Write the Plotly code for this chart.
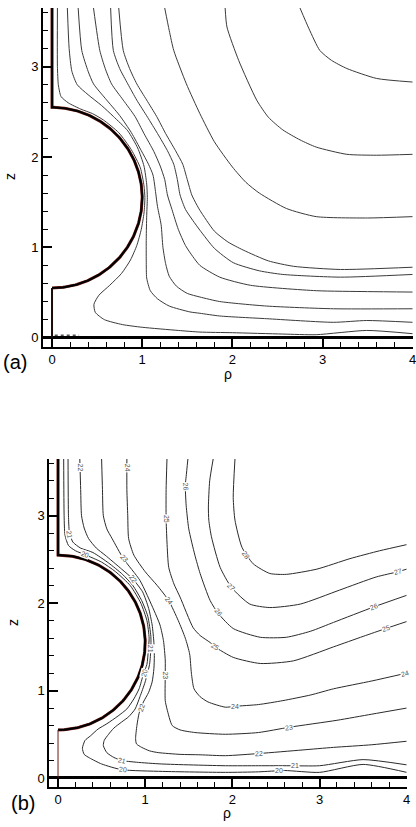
import numpy as np
import plotly.graph_objects as go

# ---------------- axes / geometry ----------------
RHO_RANGE = [-0.1, 4.0]
Z_RANGE = [-0.1, 3.65]
SPHERE_CENTER_Z = 1.55
SPHERE_RADIUS = 1.0
SPHERE_TOP_Z = 2.55
SPHERE_BOTTOM_Z = 0.55

# ---------------- panel (a): contour lines (rho, z) ----------------
a1_rho = [0.06,0.06,0.07,0.10,0.18,0.32,0.45,0.57,0.74,0.88,0.98,1.02,1.03,1.02,0.99,0.94,0.87,0.77,0.64,0.52,0.465,0.48,0.58,0.78,1.0,1.4,1.64,2.0,2.56,2.93,3.49,4.0]
a1_z   = [3.65,3.0,2.8,2.67,2.60,2.53,2.48,2.41,2.27,2.08,1.88,1.68,1.55,1.38,1.2,1.02,0.86,0.71,0.58,0.47,0.37,0.28,0.20,0.145,0.115,0.08,0.062,0.055,0.04,0.033,0.08,0.044]
a2_rho = [0.17,0.19,0.22,0.28,0.40,0.55,0.68,0.84,0.95,1.02,1.05,1.057,1.05,1.045,1.045,1.05,1.09,1.17,1.30,1.53,1.64,1.86,2.38,3.12,3.49,4.0]
a2_z   = [3.65,3.2,2.95,2.80,2.69,2.57,2.45,2.29,2.10,1.90,1.70,1.55,1.35,1.1,0.85,0.66,0.52,0.43,0.35,0.285,0.27,0.24,0.21,0.17,0.19,0.17]
a3_rho = [0.29,0.33,0.40,0.46,0.59,0.75,0.88,0.99,1.07,1.12,1.15,1.17,1.21,1.23,1.26,1.30,1.38,1.50,1.64,1.86,2.38,3.12,4.0]
a3_z   = [3.65,3.18,2.95,2.81,2.65,2.46,2.27,2.07,1.92,1.8,1.6,1.45,1.25,1.0,0.82,0.68,0.57,0.49,0.45,0.40,0.35,0.32,0.32]
a4_rho = [0.46,0.53,0.59,0.66,0.79,0.92,1.02,1.13,1.20,1.25,1.28,1.33,1.40,1.48,1.56,1.64,1.86,2.2,2.93,3.5,4.0]
a4_z   = [3.65,3.18,2.98,2.81,2.63,2.45,2.26,2.06,1.9,1.75,1.58,1.42,1.2,1.02,0.9,0.80,0.67,0.58,0.52,0.51,0.505]
a5_rho = [0.65,0.68,0.75,0.84,0.94,1.06,1.17,1.28,1.35,1.39,1.42,1.48,1.56,1.64,1.8,2.01,2.3,2.56,3.2,4.0]
a5_z   = [3.65,3.18,2.98,2.81,2.63,2.44,2.26,2.07,1.92,1.75,1.58,1.42,1.30,1.19,0.99,0.83,0.74,0.70,0.67,0.70]
a6_rho = [0.74,0.79,0.86,0.94,1.05,1.16,1.26,1.37,1.45,1.50,1.55,1.60,1.64,1.8,1.95,2.12,2.4,2.68,3.2,4.0]
a6_z   = [3.65,3.18,2.98,2.81,2.63,2.45,2.26,2.07,1.92,1.75,1.58,1.48,1.41,1.18,1.06,0.97,0.85,0.79,0.755,0.78]
a7_rho = [1.25,1.30,1.35,1.49,1.64,1.8,2.0,2.15,2.3,2.6,2.93,3.5,4.0]
a7_z   = [3.65,3.4,3.18,2.81,2.48,2.17,1.89,1.72,1.6,1.43,1.34,1.325,1.34]
a8_rho = [1.92,1.94,2.07,2.27,2.40,2.56,2.75,2.93,3.27,3.6,4.0]
a8_z   = [3.65,3.44,3.07,2.63,2.44,2.30,2.19,2.11,2.03,2.02,2.03]
a9_rho = [2.75,2.85,2.97,3.1,3.27,3.6,4.0]
a9_z   = [3.65,3.42,3.18,3.07,2.98,2.87,2.83]
a_dots_rho = [0.03, 0.30]
a_dots_z = [0.028, 0.028]

TOP_LINES = [(a1_rho, a1_z), (a2_rho, a2_z), (a3_rho, a3_z), (a4_rho, a4_z), (a5_rho, a5_z),
             (a6_rho, a6_z), (a7_rho, a7_z), (a8_rho, a8_z), (a9_rho, a9_z)]

# ---------------- panel (b): contour levels 20..28 ----------------
b20_rho = [0.065,0.07,0.08,0.12,0.20,0.31,0.50,0.66,0.83,0.95,1.02,1.045,1.035,1.02,0.98,0.93,0.87,0.79,0.69,0.56,0.46,0.37,0.31,0.28,0.30,0.36,0.5,0.73,1.2,1.92,2.3,2.6,3.0,3.5,4.0]
b20_z   = [3.65,3.0,2.78,2.66,2.60,2.555,2.47,2.36,2.2,2.0,1.8,1.6,1.45,1.3,1.19,1.02,0.905,0.79,0.71,0.62,0.56,0.48,0.43,0.34,0.27,0.23,0.16,0.095,0.075,0.064,0.07,0.085,0.064,0.155,0.064]
b21_rho = [0.115,0.12,0.13,0.17,0.26,0.40,0.58,0.74,0.86,0.96,1.03,1.065,1.065,1.05,1.0,0.94,0.885,0.81,0.73,0.64,0.58,0.53,0.52,0.56,0.64,0.73,0.9,1.19,1.92,2.3,2.65,3.0,3.5,4.0]
b21_z   = [3.65,3.0,2.82,2.70,2.63,2.58,2.46,2.33,2.2,2.03,1.85,1.62,1.48,1.3,1.10,0.93,0.79,0.70,0.64,0.57,0.50,0.43,0.37,0.29,0.235,0.20,0.18,0.16,0.14,0.14,0.14,0.14,0.21,0.15]
b22_rho = [0.25,0.26,0.27,0.30,0.35,0.44,0.54,0.73,0.855,0.97,1.04,1.08,1.10,1.105,1.10,1.08,1.04,0.98,0.93,0.905,0.89,0.90,0.96,1.05,1.15,1.4,1.63,1.92,2.31,2.8,3.16,3.6,4.0]
b22_z   = [3.65,3.3,3.0,2.86,2.74,2.63,2.55,2.39,2.28,2.13,1.94,1.75,1.55,1.4,1.25,1.10,0.98,0.87,0.74,0.60,0.45,0.39,0.35,0.31,0.29,0.27,0.265,0.255,0.28,0.32,0.35,0.38,0.42]
b23_rho = [0.50,0.51,0.52,0.56,0.62,0.75,0.94,1.10,1.17,1.21,1.23,1.23,1.23,1.25,1.31,1.40,1.57,1.92,2.3,2.65,3.2,3.6,4.0]
b23_z   = [3.65,3.3,3.0,2.85,2.74,2.51,2.26,1.92,1.75,1.57,1.35,1.17,0.885,0.79,0.60,0.55,0.52,0.50,0.52,0.58,0.66,0.73,0.80]
b24_rho = [0.79,0.79,0.80,0.81,0.87,1.0,1.14,1.27,1.38,1.46,1.51,1.53,1.56,1.63,1.72,1.92,2.03,2.3,2.58,2.9,3.16,3.6,4.0]
b24_z   = [3.65,3.3,3.0,2.74,2.55,2.36,2.2,2.03,1.80,1.6,1.42,1.2,1.02,0.93,0.87,0.81,0.82,0.84,0.885,0.95,1.02,1.11,1.20]
b25_rho = [1.25,1.24,1.24,1.25,1.27,1.33,1.40,1.55,1.63,1.745,1.80,2.01,2.32,2.70,3.16,3.5,3.76,4.0]
b25_z   = [3.65,3.3,2.97,2.7,2.41,2.22,2.07,1.72,1.63,1.55,1.50,1.38,1.31,1.34,1.50,1.62,1.71,1.79]
b26_rho = [1.49,1.47,1.46,1.47,1.50,1.57,1.63,1.745,1.84,2.01,2.32,2.62,2.9,3.16,3.63,4.0]
b26_z   = [3.65,3.45,3.35,3.12,2.85,2.55,2.34,2.03,1.88,1.71,1.61,1.61,1.68,1.78,1.96,2.09]
b27_rho = [1.78,1.74,1.725,1.73,1.76,1.86,1.99,2.20,2.43,2.78,3.23,3.65,3.90,4.0]
b27_z   = [3.65,3.40,3.10,2.95,2.76,2.41,2.18,1.99,1.95,1.99,2.15,2.30,2.36,2.39]
b28_rho = [2.03,2.01,2.03,2.11,2.24,2.43,2.62,2.97,3.35,3.69,4.0]
b28_z   = [3.65,3.21,2.95,2.64,2.45,2.34,2.33,2.39,2.51,2.60,2.67]

BOTTOM_LINES = [(b20_rho, b20_z), (b21_rho, b21_z), (b22_rho, b22_z), (b23_rho, b23_z), (b24_rho, b24_z),
                (b25_rho, b25_z), (b26_rho, b26_z), (b27_rho, b27_z), (b28_rho, b28_z)]

label_text  = ["22","24","26","25","21","20","23","22","24","26","28","27","25","21","20","23","22",
               "27","26","25","24","24","23","22","21","20","21","20"]
label_rho   = [0.255,0.79,1.46,1.245,0.135,0.31,0.76,0.855,1.27,1.84,2.16,1.99,1.80,1.065,0.985,1.23,0.955,
               3.90,3.63,3.76,3.98,2.03,2.65,2.31,2.72,2.54,0.73,0.75]
label_z     = [3.55,3.55,3.33,2.97,2.79,2.555,2.51,2.28,2.03,1.89,2.55,2.18,1.50,1.48,1.20,1.17,0.81,
               2.36,1.96,1.71,1.19,0.82,0.58,0.28,0.14,0.085,0.20,0.10]
label_angle = [90,90,85,90,80,20,50,55,50,50,55,45,30,90,-75,90,-70,
               -15,-20,-18,-15,0,-6,-2,0,0,12,5]

# ---------------- figure ----------------
W, H = 416, 827
FONT = "Liberation Sans, Arial, sans-serif"
fig = go.Figure()

LINE_A = dict(color="#3a3a3a", width=1)
LINE_B = dict(color="#2a2a2a", width=1)

for rho, z in TOP_LINES:
    fig.add_trace(go.Scatter(x=rho, y=z, mode="lines", line=dict(**LINE_A, shape="spline", smoothing=0.6),
                             xaxis="x", yaxis="y", hoverinfo="skip"))
fig.add_trace(go.Scatter(x=a_dots_rho, y=a_dots_z, mode="lines", line=dict(color="#555", width=1.5, dash="dot"),
                         xaxis="x", yaxis="y", hoverinfo="skip"))
for rho, z in BOTTOM_LINES:
    fig.add_trace(go.Scatter(x=rho, y=z, mode="lines", line=dict(**LINE_B, shape="spline", smoothing=0.6),
                             xaxis="x2", yaxis="y2", hoverinfo="skip"))

# body outline (axis segments + spherical arc)
theta = np.linspace(0, np.pi, 181)
body_rho = np.concatenate([[0.0, 0.0], SPHERE_RADIUS * np.sin(theta), [0.0]])
body_z = np.concatenate([[Z_RANGE[1], SPHERE_TOP_Z], SPHERE_CENTER_Z + SPHERE_RADIUS * np.cos(theta), [SPHERE_BOTTOM_Z]])
stem_rho = [0.0, 0.0]
stem_z = [SPHERE_BOTTOM_Z, 0.0]

for xa, ya, stem_w, stem_c in (("x", "y", 2.0, "#1a0a08"), ("x2", "y2", 1.0, "#6a1a14")):
    fig.add_trace(go.Scatter(x=body_rho, y=body_z, mode="lines", line=dict(color="#8a2a20", width=3.0),
                             xaxis=xa, yaxis=ya, hoverinfo="skip"))
    fig.add_trace(go.Scatter(x=body_rho, y=body_z, mode="lines", line=dict(color="black", width=2.2),
                             xaxis=xa, yaxis=ya, hoverinfo="skip"))
    fig.add_trace(go.Scatter(x=stem_rho, y=stem_z, mode="lines", line=dict(color=stem_c, width=stem_w),
                             xaxis=xa, yaxis=ya, hoverinfo="skip"))

for t, r, zz, ang in zip(label_text, label_rho, label_z, label_angle):
    fig.add_annotation(x=r, y=zz, xref="x2", yref="y2", text=t, showarrow=False, textangle=ang,
                       font=dict(family=FONT, size=7, color="#505050"), bgcolor="white", borderpad=0)

def px_x(p):
    return p / W

def px_y(p):
    return 1 - p / H

axis_common = dict(
    showgrid=False, zeroline=False, showline=True, linecolor="black", linewidth=2,
    ticks="inside", ticklen=9, tickwidth=2, tickcolor="black",
    tickfont=dict(family=FONT, size=13, color="black"), ticklabeloverflow="allow",
    tick0=0, dtick=1, automargin=False, fixedrange=True,
    minor=dict(ticks="inside", ticklen=5, tickwidth=1, tickcolor="black", dtick=0.2, tick0=0, showgrid=False),
)

fig.update_layout(
    width=W, height=H, margin=dict(l=0, r=0, t=0, b=0),
    paper_bgcolor="white", plot_bgcolor="white", showlegend=False, template=None,
    xaxis=dict(domain=[px_x(43), px_x(412.7)], range=RHO_RANGE, anchor="y", **axis_common),
    yaxis=dict(domain=[px_y(346.7), px_y(8)], range=Z_RANGE, anchor="x",
               **{**axis_common, "zeroline": True, "zerolinecolor": "black", "zerolinewidth": 3}),
    xaxis2=dict(domain=[px_x(49.3), px_x(406.7)], range=RHO_RANGE, anchor="y2", **axis_common),
    yaxis2=dict(domain=[px_y(786.7), px_y(459)], range=Z_RANGE, anchor="x2",
                **{**axis_common, "zeroline": True, "zerolinecolor": "black", "zerolinewidth": 3}),
)

# axis titles and panel tags
for txt, x, y, size, ang in (("z", 10, 177, 14, -90), ("ρ", 228, 374, 14, 0), ("(a)", 15, 362, 20, 0),
                             ("z", 13, 623, 14, -90), ("ρ", 226.7, 813, 14, 0), ("(b)", 22.5, 803, 20, 0)):
    fig.add_annotation(x=px_x(x), y=px_y(y), xref="paper", yref="paper", text=txt, showarrow=False,
                       textangle=ang, font=dict(family=FONT, size=size, color="black"),
                       xanchor="center", yanchor="middle")

fig.write_html("out.html")
